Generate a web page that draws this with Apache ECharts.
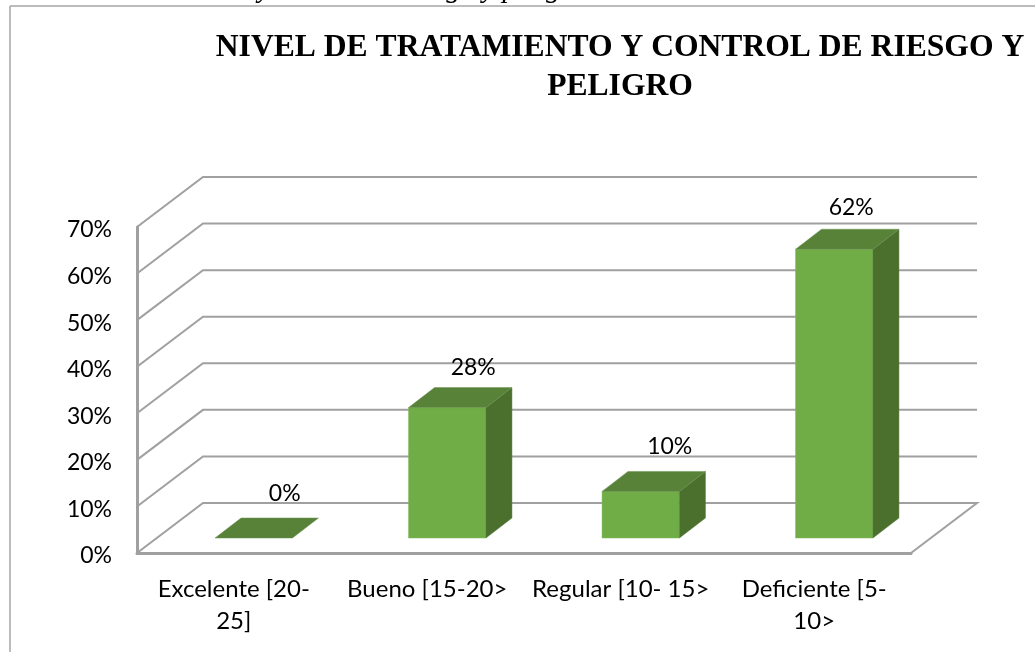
<!DOCTYPE html>
<html><head><meta charset="utf-8">
<style>html,body{margin:0;padding:0;background:#fff}#c{width:1035px;height:652px}</style>
<script src="https://cdn.jsdelivr.net/npm/echarts@6/dist/echarts.min.js"></script>
</head><body><div id="c"></div>
<script>
const categories = ['Excelente [20-\n25]', 'Bueno [15-20>', 'Regular [10- 15>', 'Deficiente [5-\n10>'];
const values = [0, 28, 10, 62];
const ticks = [0, 10, 20, 30, 40, 50, 60, 70];
const titleText = 'NIVEL DE TRATAMIENTO Y CONTROL DE RIESGO Y\nPELIGRO';
const captionText = 'y control de riesgo y peligro';

const WALL_DX = 66, WALL_DY = -50;
const BAR_DX = 26, BAR_DY = -20, BAR_INSET_X = 20, BAR_INSET_Y = 15;
const LABEL_SHIFT = [[31, -44], [26, -40], [29, -45], [17, -42]];
const GRID_COLOR = '#A0A0A0';

const chart = echarts.init(document.getElementById('c'));

function renderWall(params, api) {
  const r = params.coordSys;
  const y = api.coord([0, api.value(1)])[1];
  const x0 = r.x, x1 = r.x + r.width;
  const pts = [[x0, y], [x0 + WALL_DX, y + WALL_DY], [x1 + WALL_DX, y + WALL_DY]];
  if (api.value(1) === 0) pts.push([x1, y]);
  return { type: 'polyline', shape: { points: pts },
    style: { stroke: GRID_COLOR, lineWidth: 2, fill: null } };
}

function renderBar(params, api) {
  const i = api.value(0), v = api.value(1);
  const c = api.coord([i, v]), base = api.coord([i, 0]);
  const w = api.size([1, 0])[0] * 0.4;
  const l = c[0] - w / 2 + BAR_INSET_X, r = l + w;
  const t = c[1] - BAR_INSET_Y, b = base[1] - BAR_INSET_Y;
  const children = [];
  if (v > 0) {
    children.push({ type: 'polygon', shape: { points: [[l, t], [r, t], [r, b], [l, b]] },
      style: { fill: '#70AD47', stroke: '#7DB659', lineWidth: 0.5 } });
    children.push({ type: 'polygon', shape: { points: [[r, t], [r + BAR_DX, t + BAR_DY], [r + BAR_DX, b + BAR_DY], [r, b]] },
      style: { fill: '#4B702D', stroke: '#5A7F3D', lineWidth: 0.5 } });
  }
  children.push({ type: 'polygon', shape: { points: [[l, t], [r, t], [r + BAR_DX, t + BAR_DY], [l + BAR_DX, t + BAR_DY]] },
    style: { fill: '#578238', stroke: '#6A9150', lineWidth: 0.5 } });
  children.push({ type: 'text', style: {
    x: (l + r) / 2 + LABEL_SHIFT[i][0], y: t + LABEL_SHIFT[i][1],
    text: v + '%', fill: '#000', font: '23px Lato', align: 'center', verticalAlign: 'middle' } });
  return { type: 'group', children };
}

chart.setOption({
  animation: false,
  backgroundColor: '#fff',
  title: { text: titleText, left: 615, top: 23, textAlign: 'center',
    textStyle: { fontFamily: 'Liberation Serif', fontWeight: 'bold', fontSize: 31.6, lineHeight: 39, color: '#000' } },
  grid: { left: 137, right: 124, top: 227, bottom: 99, containLabel: false },
  xAxis: { type: 'category', data: categories,
    axisLine: { show: true, lineStyle: { color: GRID_COLOR, width: 3 } }, axisTick: { show: false }, splitLine: { show: false },
    axisLabel: { color: '#000', fontFamily: 'Lato', fontSize: 24, lineHeight: 32, margin: 20, interval: 0 } },
  yAxis: { type: 'value', min: 0, max: 70, interval: 10,
    axisLine: { show: true, lineStyle: { color: GRID_COLOR, width: 3 } }, axisTick: { show: false }, splitLine: { show: false },
    axisLabel: { color: '#000', fontFamily: 'Lato', fontSize: 23, margin: 25, verticalAlign: 'top', lineHeight: 6, formatter: '{value}%' } },
  series: [
    { type: 'custom', renderItem: renderWall, data: ticks.map(t => [0, t]), silent: true, z: 1 },
    { type: 'custom', renderItem: renderBar, data: values.map((v, i) => [i, v]), silent: true, z: 3 }
  ],
  graphic: [
    { type: 'text', style: { x: 258, y: 4, text: captionText, fill: '#000', font: 'italic 29px "Liberation Serif"', verticalAlign: 'bottom' } },
    { type: 'line', shape: { x1: 10, y1: 6, x2: 10, y2: 652 }, style: { stroke: '#A6A6A6', lineWidth: 1.5 } },
    { type: 'line', shape: { x1: 10, y1: 6, x2: 1035, y2: 6 }, style: { stroke: '#A6A6A6', lineWidth: 1.5 } }
  ]
});
</script></body></html>
